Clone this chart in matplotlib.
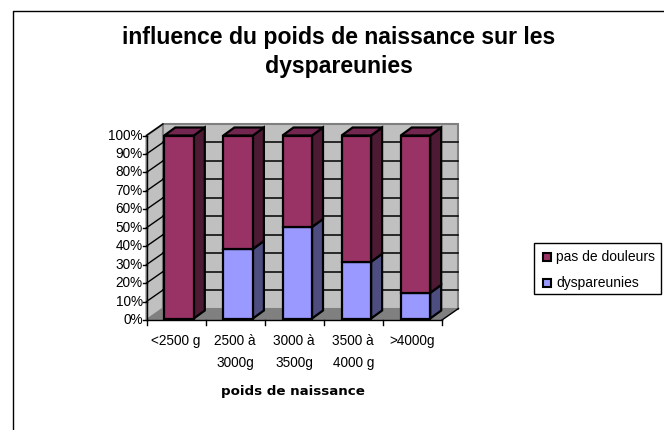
import matplotlib
matplotlib.use("Agg")
import matplotlib.pyplot as plt
from matplotlib.patches import Polygon, Rectangle

plt.rcParams['font.family'] = ['Liberation Sans', 'DejaVu Sans']

categories = ['<2500 g', '2500 à\n3000g', '3000 à\n3500g', '3500 à\n4000 g', '>4000g']
dyspareunies = [0, 38, 50, 31, 14]
pas_de_douleurs = [100, 62, 50, 69, 86]
pct_ticks = list(range(0, 101, 10))

W, H = 664, 430
AX_L, AX_R, AX_T, AX_B = 146.5, 442, 135.5, 320

RED, RED_SIDE, RED_TOP = '#993366', '#4d1a33', '#732650'
BLUE, BLUE_SIDE = '#9999ff', '#4d4d80'

fig = plt.figure(figsize=(W / 100, H / 100), dpi=100, facecolor='white')
ax = fig.add_axes([AX_L / W, 1 - AX_B / H, (AX_R - AX_L) / W, (AX_B - AX_T) / H])
ax.set_xlim(0, len(categories))
ax.set_ylim(0, 100)
ax.axis('off')

# pixel sizes in data units, for the fake 3d offsets
px = len(categories) / (AX_R - AX_L)
py = 100 / (AX_B - AX_T)
wall_dx, wall_dy = 16.5 * px, 11.5 * py


def poly(pts, fc, z, ec='none', lw=0):
    ax.add_patch(Polygon(pts, closed=True, fc=fc, ec=ec, lw=lw, zorder=z,
                         clip_on=False, joinstyle='miter'))


# walls and floor
poly([(0, 0), (wall_dx, wall_dy), (wall_dx, 100 + wall_dy), (0, 100)], '#c0c0c0', 1, '#808080', 1.5)
poly([(wall_dx, wall_dy), (5 + wall_dx, wall_dy), (5 + wall_dx, 100 + wall_dy), (wall_dx, 100 + wall_dy)],
     '#c0c0c0', 1, '#808080', 1.5)
poly([(0, 0), (5, 0), (5 + wall_dx, wall_dy), (wall_dx, wall_dy)], '#808080', 2)

for t in pct_ticks:
    if 0 < t < 100:
        ax.plot([wall_dx, 5 + wall_dx], [t + wall_dy, t + wall_dy], color='black', lw=1.1, zorder=3, clip_on=False)
    if t > 0:
        ax.plot([0, wall_dx], [t, t + wall_dy], color='black', lw=1.0, zorder=3, clip_on=False)

# axis lines and ticks
ax.plot([0, 0], [0, 100], color='black', lw=1.0, zorder=4, clip_on=False)
ax.plot([0, 5], [0, 0], color='black', lw=1.0, zorder=4, clip_on=False)
ax.plot([5, 5 + wall_dx], [0, wall_dy], color='black', lw=1.0, zorder=4, clip_on=False)
for t in pct_ticks:
    ax.plot([-4 * px, 0], [t, t], color='black', lw=1.0, zorder=4, clip_on=False)
    ax.text(-3.5 * px, t, f'{t}%', ha='right', va='center', fontsize=9.8, color='black')
for i in range(len(categories) + 1):
    ax.plot([i, i], [0, -5 * py], color='black', lw=1.0, zorder=4, clip_on=False)

# bars
bar_w = 29.5 * px
bar_dx, bar_dy = 11 * px, 8 * py
lift_x, lift_y = 3 * px, 1.5 * py
edge = dict(ec='black', lw=1.6)
for i, (d, p) in enumerate(zip(dyspareunies, pas_de_douleurs)):
    x0 = i + 0.5 - bar_w / 2 + lift_x
    x1 = x0 + bar_w
    y = lift_y
    z = 5 + i
    for val, fc, side in [(d, BLUE, BLUE_SIDE), (p, RED, RED_SIDE)]:
        if val == 0:
            continue
        h = val * (100 - lift_y) / 100
        poly([(x1, y), (x1 + bar_dx, y + bar_dy), (x1 + bar_dx, y + h + bar_dy), (x1, y + h)], side, z, **edge)
        poly([(x0, y), (x1, y), (x1, y + h), (x0, y + h)], fc, z, **edge)
        y += h
    poly([(x0, y), (x1, y), (x1 + bar_dx, y + bar_dy), (x0 + bar_dx, y + bar_dy)], RED_TOP, z, **edge)

for i, c in enumerate(categories):
    ax.text(i + 0.5, -14 * py, c, ha='center', va='top', fontsize=9.8, color='black', linespacing=1.72)

fig.text(293 / W, 1 - 392 / H, 'poids de naissance', ha='center', va='center',
         fontsize=9.6, fontweight='bold', color='black', family='DejaVu Sans')
fig.text(339 / W, 1 - 52 / H, 'influence du poids de naissance sur les\ndyspareunies', ha='center', va='center',
         fontsize=16.6, fontweight='bold', color='black', linespacing=1.38)

# chart frame
fig.add_artist(plt.Line2D([12.5 / W, 12.5 / W, 1], [0, 1 - 10.5 / H, 1 - 10.5 / H], color='black', lw=1.0))

# legend box
fig.add_artist(Rectangle((534 / W, 1 - 294 / H), 127 / W, 51 / H, fc='white', ec='black', lw=1.0,
                         transform=fig.transFigure))
for label, fc, yy in [('pas de douleurs', RED, 257), ('dyspareunies', BLUE, 282.5)]:
    fig.add_artist(Rectangle((543 / W, 1 - (yy + 4) / H), 8 / W, 8 / H, fc=fc, ec='black', lw=1.5,
                             transform=fig.transFigure))
    fig.text(556.5 / W, 1 - yy / H, label, ha='left', va='center', fontsize=10, color='black')

fig.savefig('out.png', dpi=100)
